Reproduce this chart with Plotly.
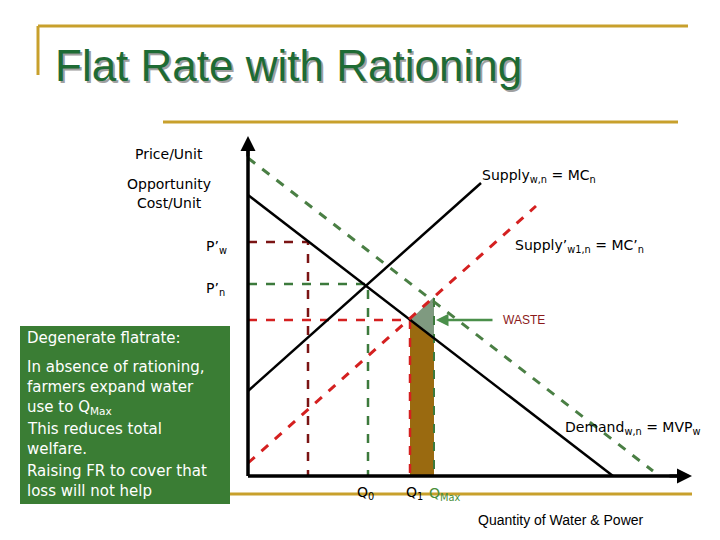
import plotly.graph_objects as go

# curve endpoints (x = quantity, y = price, in page units, y grows downward)
demand_x = [240, 605]
demand_y = [187, 468]
supply_x = [240, 473]
supply_y = [383, 175]
supply2_x = [240, 528]
supply2_y = [455, 198]
green_x = [240, 645]
green_y = [150, 463]

# reference levels
pw_x = [240, 300, 300]
pw_y = [234, 234, 468]
pn_x = [240, 360, 360]
pn_y = [276, 276, 468]
p1_x = [240, 402, 402]
p1_y = [312, 312, 468]
qmax_x = [426, 426]
qmax_y = [290, 468]

# shaded areas
bar_x = [402, 426, 426, 402]
bar_y = [312, 330, 468, 468]
waste_x = [402, 426, 426]
waste_y = [312, 289, 330]

box_lines = ["Degenerate flatrate:", "In absence of rationing,", "farmers expand water",
             "use to Q<sub>Max</sub>", "This reduces total", "welfare.",
             "Raising FR to cover that", "loss will not help"]
box_y = [330, 359, 379, 399, 421, 441, 463, 483]

fig = go.Figure()

def line(x, y, color, dash="solid", width=2.5):
    fig.add_trace(go.Scatter(x=x, y=y, mode="lines", line=dict(color=color, width=width, dash=dash),
                             hoverinfo="skip"))

def poly(x, y, color):
    fig.add_trace(go.Scatter(x=x, y=y, mode="lines", fill="toself", fillcolor=color,
                             line=dict(width=0), hoverinfo="skip"))

poly(bar_x, bar_y, "#9A6A10")
poly(waste_x, waste_y, "#7F9A80")
line(pw_x, pw_y, "#7B1414", "dash", 2.5)
line(pn_x, pn_y, "#3C7A3C", "dash", 2.5)
line(p1_x, p1_y, "#D42020", "dash", 2.5)
line(qmax_x, qmax_y, "#3C7A3C", "dash", 2)
line(demand_x, demand_y, "black")
line(supply_x, supply_y, "black")
line(supply2_x, supply2_y, "#D42020", "dash", 3)
line(green_x, green_y, "#4A7F44", "dash", 3)
# axes
line([240, 240], [468, 135], "black", width=3.5)
line([240, 676], [468, 468], "black", width=3.5)

gold = "#C8A02C"
shapes = [
    dict(type="line", x0=30, x1=680, y0=18, y1=18),
    dict(type="line", x0=30, x1=30, y0=18, y1=67),
    dict(type="line", x0=155, x1=670, y0=114, y1=114),
    dict(type="line", x0=222, x1=684, y0=486, y1=486),
]
for s in shapes:
    s.update(xref="x", yref="y", line=dict(color=gold, width=3))
shapes.append(dict(type="rect", xref="x", yref="y", x0=12, x1=222, y0=318, y1=496,
                   fillcolor="#3A7D34", line=dict(width=0), layer="below"))

font = "DejaVu Sans"
ann = []
def txt(x, y, t, size=14, color="black", xanchor="left", fam=font):
    ann.append(dict(x=x, y=y, text=t, showarrow=False, xanchor=xanchor, yanchor="middle",
                    align="left", font=dict(family=fam, size=size, color=color)))

txt(47, 59, "Flat Rate with Rationing", 44, "#A0A0A0", fam="Liberation Sans")
txt(45, 57, "Flat Rate with Rationing", 44, "#1E6B34", fam="Liberation Sans")
txt(161, 146, "Price/Unit", xanchor="center")
txt(161, 176, "Opportunity", xanchor="center")
txt(161, 195, "Cost/Unit", xanchor="center")
txt(196, 239, "P’<sub>w</sub>")
txt(196, 281, "P’<sub>n</sub>")
txt(472, 168, "Supply<sub>w,n</sub> = MC<sub>n</sub>")
txt(505, 238, "Supply’<sub>w1,n</sub> = MC’<sub>n</sub>")
txt(555, 420, "Demand<sub>w,n</sub> = MVP<sub>w</sub>")
txt(493, 312, "WASTE", 12, "#8B1A1A", fam="Liberation Sans")
txt(347, 485, "Q<sub>0</sub>")
txt(396, 485, "Q<sub>1</sub>")
txt(419, 486, "Q<sub>Max</sub>", 14, "#4A8F3A")
txt(553, 512, "Quantity of Water & Power", 14, xanchor="center", fam="Liberation Sans")
for t, y in zip(box_lines, box_y):
    txt(17, y, t, 15, "white")

# axis arrowheads and WASTE arrow
ann.append(dict(x=240, y=128, ax=240, ay=150, xref="x", yref="y", axref="x", ayref="y",
                showarrow=True, arrowhead=2, arrowsize=1, arrowwidth=3, arrowcolor="black", text=""))
ann.append(dict(x=684, y=468, ax=660, ay=468, xref="x", yref="y", axref="x", ayref="y",
                showarrow=True, arrowhead=2, arrowsize=1, arrowwidth=3, arrowcolor="black", text=""))
ann.append(dict(x=428, y=312, ax=486, ay=312, xref="x", yref="y", axref="x", ayref="y",
                showarrow=True, arrowhead=2, arrowsize=1, arrowwidth=2.5, arrowcolor="#4A8F4A", text=""))

fig.update_layout(
    width=720, height=540, margin=dict(l=0, r=0, t=0, b=0),
    plot_bgcolor="white", paper_bgcolor="white", showlegend=False,
    xaxis=dict(range=[0, 720], visible=False, fixedrange=True),
    yaxis=dict(range=[540, 0], visible=False, fixedrange=True),
    shapes=shapes, annotations=ann,
)
fig.write_html("out.html")
